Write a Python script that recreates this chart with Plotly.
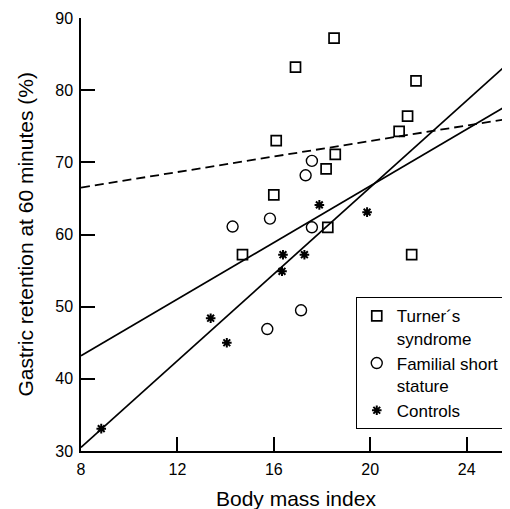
import plotly.graph_objects as go

# Turner's syndrome
turner_x = [18.5, 16.9, 21.9, 21.55, 21.2, 16.1, 18.55, 18.17, 16.0, 18.24, 14.7, 21.72]
turner_y = [87.2, 83.2, 81.3, 76.4, 74.3, 73.0, 71.1, 69.1, 65.5, 61.0, 57.2, 57.2]
# Familial short stature
fss_x = [17.58, 17.32, 15.84, 14.29, 17.58, 17.13, 15.73]
fss_y = [70.2, 68.2, 62.2, 61.1, 61.0, 49.5, 46.9]
# Controls
ctrl_x = [17.89, 19.87, 16.38, 17.27, 16.34, 13.38, 14.05, 8.84]
ctrl_y = [64.1, 63.1, 57.2, 57.2, 54.9, 48.4, 45.0, 33.1]

# Fitted lines (end points)
line_x = [8, 25.85]
dashed_y = [66.5, 76.1]
shallow_y = [43.2, 78.2]
steep_y = [30.5, 84.1]

x_ticks = [8, 12, 16, 20, 24]
y_ticks = [30, 40, 50, 60, 70, 80, 90]

FONT = "Liberation Sans, Arial, sans-serif"

fig = go.Figure()

fig.add_trace(go.Scatter(x=line_x, y=dashed_y, mode="lines",
                         line=dict(color="black", width=1.8, dash="9px,5px"),
                         showlegend=False, hoverinfo="skip"))
fig.add_trace(go.Scatter(x=line_x, y=shallow_y, mode="lines",
                         line=dict(color="black", width=1.7),
                         showlegend=False, hoverinfo="skip"))
fig.add_trace(go.Scatter(x=line_x, y=steep_y, mode="lines",
                         line=dict(color="black", width=1.7),
                         showlegend=False, hoverinfo="skip"))

fig.add_trace(go.Scatter(x=turner_x, y=turner_y, mode="markers",
                         name="Turner\u00b4s<br>syndrome",
                         marker=dict(symbol="square-open", size=10, color="black",
                                     line=dict(width=1.7, color="black"))))
fig.add_trace(go.Scatter(x=fss_x, y=fss_y, mode="markers",
                         name="Familial short<br>stature",
                         marker=dict(symbol="circle-open", size=11, color="black",
                                     line=dict(width=1.4, color="black"))))
fig.add_trace(go.Scatter(x=ctrl_x, y=ctrl_y, mode="markers",
                         name="Controls",
                         marker=dict(symbol="asterisk-open", size=8, color="black",
                                     line=dict(width=2, color="black"))))

fig.update_layout(
    width=502, height=501,
    margin=dict(l=73, r=0, t=10, b=58, autoexpand=False),
    paper_bgcolor="white", plot_bgcolor="white",
    font=dict(family=FONT, color="black", size=16),
    showlegend=True,
    legend=dict(x=0.64, y=0.203, xanchor="left", yanchor="middle",
                bgcolor="white", bordercolor="black", borderwidth=1.2,
                font=dict(size=17, family=FONT), valign="top",
                itemwidth=30, tracegroupgap=0),
    xaxis=dict(range=[8, 25.8], tickmode="array", tickvals=x_ticks,
               ticks="inside", ticklen=14, tickwidth=1.5, tickcolor="#000000",
               showline=True, linecolor="black", ticklabelstandoff=3,
               linewidth=1.5, showgrid=False, zeroline=False, automargin=False,
               tickfont=dict(size=16)),
    yaxis=dict(range=[30, 90], tickmode="array", tickvals=y_ticks,
               ticks="inside", ticklen=14, tickwidth=1.5, tickcolor="#000000",
               showline=True, linecolor="black", ticklabelstandoff=3,
               linewidth=1.5, showgrid=False, zeroline=False, automargin=False,
               tickfont=dict(size=16)),
    annotations=[
        dict(text="Body mass index", x=0.5, xref="paper",
             y=0, yref="paper", yshift=-47, yanchor="middle", showarrow=False,
             font=dict(size=21, family=FONT)),
        dict(text="Gastric retention at 60 minutes (%)", textangle=-90,
             x=0, xref="paper", xshift=-56, xanchor="center",
             y=0.5, yref="paper", yanchor="middle", showarrow=False,
             font=dict(size=21, family=FONT)),
    ],
)

fig.write_html("out.html")
